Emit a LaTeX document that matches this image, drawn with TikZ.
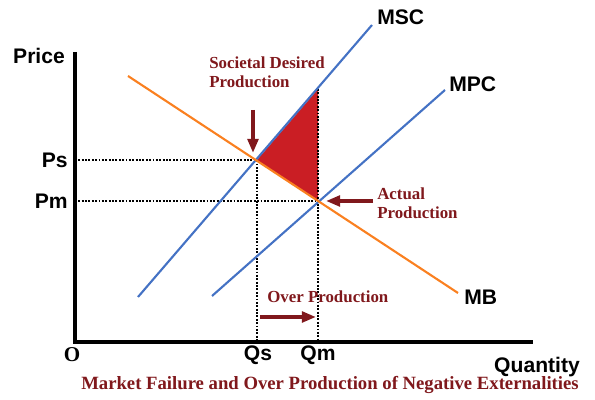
\documentclass[tikz,border=0pt]{standalone}
\usepackage{fontspec}
\setmainfont{Liberation Serif}
\setsansfont{Liberation Sans}
\usepackage{tikz}
\usetikzlibrary{
  arrows.meta,
  positioning,
  calc
}
\definecolor{costblue}{RGB}{68,114,196}
\definecolor{benefitorange}{RGB}{250,128,32}
\definecolor{lossred}{RGB}{202,30,36}
\definecolor{notered}{RGB}{128,24,28}
\tikzset{
  axis/.style={line width=2.2pt},
  curve/.style={line width=1.5pt},
  guide/.style={line width=1.3pt, dash pattern=on 1.3pt off 1.1pt},
  curvelabel/.style={font=\sffamily\bfseries\fontsize{15}{17}\selectfont,
    inner sep=0pt},
  note/.style={font=\bfseries\fontsize{12}{13.5}\selectfont, text=notered,
    align=left, inner sep=0pt},
  pointer/.style={draw=notered, line width=2.8pt,
    -{Triangle[length=10pt, width=7.5pt]}},
}

\begin{document}
\begin{tikzpicture}[x=0.025cm, y=0.025cm]
  \useasboundingbox (0,0) rectangle (595,400);

  % equilibrium points and top of the loss triangle
  \coordinate (orig) at (75,58);
  \coordinate (S) at (257,240);
  \coordinate (M) at (318,199);
  \coordinate (T) at (318,311);
  \coordinate (Sx) at (257,58);
  \coordinate (Mx) at (318,58);
  \coordinate (Sy) at (75,240);
  \coordinate (My) at (75,199);

  % deadweight loss
  \fill[lossred] (S) -- (T) -- (M) -- cycle;

  % guide lines
  \draw[guide] (Sy) -- (S) -- (Sx);
  \draw[guide] (My) -- (M);
  \draw[guide] (T) -- (Mx);

  % axes
  \draw[axis] (75,348) -- (orig) -- (533,58);

  % curves
  \coordinate (mscA) at (138,103);
  \coordinate (mscB) at (372,375);
  \coordinate (mpcA) at (212,104);
  \coordinate (mpcB) at (445,310);
  \coordinate (mbA) at (128,324);
  \coordinate (mbB) at (458,107);
  \draw[curve, costblue] (mscA) -- (mscB);
  \draw[curve, costblue] (mpcA) -- (mpcB);
  \draw[curve, benefitorange] (mbA) -- (mbB);

  % labels
  \node[curvelabel, anchor=west] (msc) at (377,383) {MSC};
  \node[curvelabel, anchor=west] (mpc) at (449,316) {MPC};
  \node[curvelabel, anchor=west] (mb) at (464,103) {MB};
  \node[curvelabel] (price) at (39,344) {Price};
  \node[curvelabel, anchor=east] (ps) at (68,240) {Ps};
  \node[curvelabel, anchor=east] (pm) at (68,199) {Pm};
  \node[curvelabel] (qs) at (258,45) {Qs};
  \node[curvelabel] (qm) at (318,45) {Qm};
  \node[curvelabel] (qty) at (537,33) {Quantity};
  \node[font=\bfseries\fontsize{15}{17}\selectfont, inner sep=0pt] (o) at (72,45) {O};

  % notes and pointers
  \node[note, anchor=west] (societal) at (209,328)
    {Societal Desired\\Production};
  \node[note, anchor=west] (actual) at (377,197)
    {Actual\\Production};
  \node[note, anchor=west] (over) at (267,103) {Over Production};
  \coordinate (downA) at (253,290);
  \coordinate (downB) at (253,247);
  \coordinate (leftA) at (373,199);
  \coordinate (leftB) at (326,199);
  \coordinate (overA) at (260,83);
  \coordinate (overB) at (316,83);
  \draw[pointer] (downA) -- (downB);
  \draw[pointer] (leftA) -- (leftB);
  \draw[pointer] (overA) -- (overB);

  \node[font=\bfseries\fontsize{13.3}{15}\selectfont, text=notered] (caption)
    at (330,15) {Market Failure and Over Production of Negative Externalities};
\end{tikzpicture}
\end{document}
